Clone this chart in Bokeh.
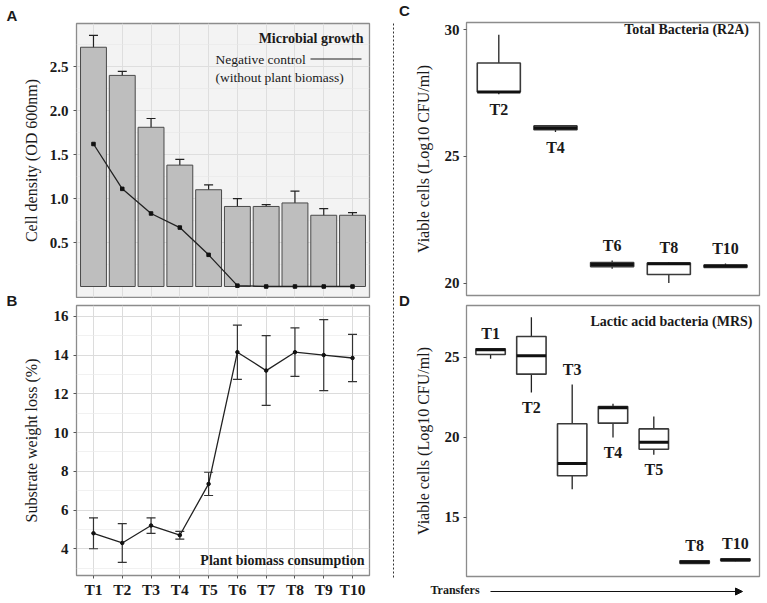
import numpy as np
from bokeh.plotting import figure
from bokeh.models import (Range1d, FixedTicker, ColumnDataSource, Whisker, TeeHead,
                          Label, Arrow, NormalHead, PrintfTickFormatter)
from bokeh.layouts import row, column
from bokeh.embed import file_html
from bokeh.resources import INLINE
from bokeh.core.properties import value

# ---------------- data ----------------
transfers = ["T1", "T2", "T3", "T4", "T5", "T6", "T7", "T8", "T9", "T10"]
growth_od = [2.72, 2.40, 1.81, 1.38, 1.10, 0.91, 0.91, 0.95, 0.81, 0.81]
growth_sd = [0.135, 0.045, 0.10, 0.065, 0.055, 0.09, 0.02, 0.135, 0.075, 0.03]
control_od = [1.62, 1.11, 0.83, 0.67, 0.36, 0.01, 0.0, 0.0, 0.0, 0.0]
control_sd = [0.015, 0.01, 0.01, 0.01, 0.015, 0.01, 0.0, 0.0, 0.0, 0.0]

weight_loss = [4.8, 4.3, 5.2, 4.7, 7.35, 14.15, 13.2, 14.15, 14.0, 13.85]
weight_loss_sd = [0.8, 1.0, 0.4, 0.2, 0.6, 1.4, 1.8, 1.25, 1.83, 1.22]

r2a_transfers = ["T2", "T4", "T6", "T8", "T10"]
r2a_low = [27.45, 25.96, 20.57, 20.00, 20.60]
r2a_q1 = [27.54, 26.05, 20.65, 20.34, 20.62]
r2a_median = [27.54, 26.12, 20.73, 20.76, 20.67]
r2a_q3 = [28.68, 26.20, 20.81, 20.79, 20.71]
r2a_high = [29.80, 26.20, 20.89, 20.83, 20.77]

mrs_transfers = ["T1", "T2", "T3", "T4", "T5", "T8", "T10"]
mrs_low = [24.90, 22.80, 16.75, 19.98, 18.90, 12.10, 12.25]
mrs_q1 = [25.17, 23.94, 17.59, 20.88, 19.25, 12.12, 12.28]
mrs_median = [25.46, 25.09, 18.36, 21.85, 19.69, 12.20, 12.33]
mrs_q3 = [25.53, 26.29, 20.84, 21.92, 20.52, 12.28, 12.40]
mrs_high = [25.55, 27.50, 23.30, 22.09, 21.30, 12.30, 12.42]

# label placement (layout, not data)
r2a_label_side = ["below", "below", "above", "above", "above"]
mrs_label_side = ["above", "below", "above", "below", "below", "above", "above"]

SERIF = "Liberation Serif"
SANS = "Liberation Sans"
TXT = "#1a1a1a"


def make_fig(width, height, borders, xr, yr, bg="white"):
    left, right, top, bottom = borders
    p = figure(width=width, height=height, x_range=Range1d(*xr), y_range=Range1d(*yr),
               output_backend="svg", toolbar_location=None,
               min_border_left=left, min_border_right=right,
               min_border_top=top, min_border_bottom=bottom)
    p.background_fill_color = bg
    p.border_fill_color = "white"
    p.outline_line_color = "#8c8c8c"
    p.outline_line_width = 1.3
    for ax in p.axis:
        ax.axis_line_color = None
        ax.major_tick_line_color = "#555555"
        ax.major_tick_out = 3
        ax.major_tick_in = 0
        ax.minor_tick_line_color = None
        ax.major_label_text_font = SERIF
        ax.major_label_text_font_style = "bold"
        ax.major_label_text_font_size = "15px"
        ax.major_label_text_color = TXT
        ax.major_label_standoff = 4
        ax.axis_label_text_font = SERIF
        ax.axis_label_text_font_style = "normal"
        ax.axis_label_text_font_size = "16px"
        ax.axis_label_text_color = TXT
    return p


def strip(width, height):
    s = figure(width=width, height=height, x_range=Range1d(0, 1), y_range=Range1d(0, 1),
               output_backend="svg", toolbar_location=None,
               x_axis_location=None, y_axis_location=None,
               min_border_left=0, min_border_right=0, min_border_top=0, min_border_bottom=0)
    s.grid.visible = False
    s.outline_line_color = None
    s.background_fill_color = "white"
    s.border_fill_color = "white"
    if hasattr(s, "frame_align"):
        s.frame_align = False
    return s


def screen_label(p, x, y, text, size="14px", bold=True, align="left", font=SERIF):
    p.add_layout(Label(x=x, y=y, x_units="screen", y_units="screen", text=text,
                       text_align=align, text_baseline="middle", text_font=font,
                       text_font_style="bold" if bold else "normal",
                       text_font_size=size, text_color=TXT))


# ---------------- Panel A ----------------
n = len(transfers)
pos = np.arange(1, n + 1)
tick_pos = list(range(1, n + 1))

pa = make_fig(373, 298, (58, 22, 23, 1), (0.41, n + 0.59), (-0.125, 2.99), bg="#f3f3f3")
pa.xaxis.ticker = FixedTicker(ticks=tick_pos)
pa.xaxis.visible = False
pa.yaxis.ticker = FixedTicker(ticks=[0.5, 1.0, 1.5, 2.0, 2.5],
                              minor_ticks=[0.25, 0.75, 1.25, 1.75, 2.25, 2.75])
pa.yaxis.formatter = PrintfTickFormatter(format="%.1f")
pa.yaxis.axis_label = "Cell density (OD 600nm)"
pa.yaxis.axis_label_standoff = 7
pa.xgrid.grid_line_color = "#dedede"
pa.ygrid.grid_line_color = "#dedede"
pa.ygrid.minor_grid_line_color = "#e7e7e7"
pa.ygrid.minor_grid_line_width = 0.6

src_a = ColumnDataSource(dict(
    x=pos, od=growth_od,
    up=np.array(growth_od) + np.array(growth_sd),
    lo=np.array(growth_od) - np.array(growth_sd),
    c=control_od,
    cup=np.array(control_od) + np.array(control_sd),
    clo=np.array(control_od) - np.array(control_sd),
))
pa.vbar(x="x", top="od", bottom=0, width=0.9, source=src_a,
        fill_color="#bebebe", line_color="#4a4a4a", line_width=1)
pa.add_layout(Whisker(source=src_a, base="x", upper="up", lower="lo",
                      line_color="#222222", line_width=1.2,
                      upper_head=TeeHead(size=9, line_color="#222222", line_width=1.2),
                      lower_head=TeeHead(size=9, line_color="#222222", line_width=1.2)))
pa.line(x="x", y="c", source=src_a, line_color="#222222", line_width=1.3)
pa.scatter(x="x", y="c", source=src_a, size=3.5, marker="square",
           fill_color="#111111", line_color="#111111")
pa.add_layout(Whisker(source=src_a, base="x", upper="cup", lower="clo",
                      line_color="#222222", line_width=1.2,
                      upper_head=TeeHead(size=7, line_color="#222222", line_width=1.2),
                      lower_head=TeeHead(size=7, line_color="#222222", line_width=1.2)))

screen_label(pa, 287, 259, "Microbial growth", align="right")
screen_label(pa, 139, 238.5, "Negative control", size="13.5px", bold=False)
screen_label(pa, 139, 220, "(without plant biomass)", size="13.5px", bold=False)
pa.add_layout(Arrow(x_start=234, y_start=238.5, x_end=285, y_end=238.5,
                    start_units="screen", end_units="screen", end=None,
                    line_color="#222222", line_width=1.2))

# ---------------- Panel B ----------------
pb = make_fig(373, 302, (58, 22, 7, 23), (0.41, n + 0.59), (2.62, 16.56))
pb.xaxis.ticker = FixedTicker(ticks=tick_pos)
pb.xaxis.major_label_overrides = {i + 1: t for i, t in enumerate(transfers)}
pb.xaxis.major_label_standoff = 2
pb.xaxis.major_tick_out = 3
pb.xaxis.major_label_text_font_size = "15.5px"
pb.yaxis.ticker = FixedTicker(ticks=[4, 6, 8, 10, 12, 14, 16],
                              minor_ticks=[3, 5, 7, 9, 11, 13, 15])
pb.yaxis.axis_label = "Substrate weight loss (%)"
pb.yaxis.axis_label_standoff = 11
pb.xgrid.grid_line_color = "#dcdcdc"
pb.ygrid.grid_line_color = "#dcdcdc"
pb.ygrid.minor_grid_line_color = "#ebebeb"
pb.ygrid.minor_grid_line_width = 0.7

src_b = ColumnDataSource(dict(
    x=pos, w=weight_loss,
    up=np.array(weight_loss) + np.array(weight_loss_sd),
    lo=np.array(weight_loss) - np.array(weight_loss_sd),
))
pb.add_layout(Whisker(source=src_b, base="x", upper="up", lower="lo",
                      line_color="#333333", line_width=1.2,
                      upper_head=TeeHead(size=9, line_color="#333333", line_width=1.2),
                      lower_head=TeeHead(size=9, line_color="#333333", line_width=1.2)))
pb.line(x="x", y="w", source=src_b, line_color="#222222", line_width=1.3)
pb.scatter(x="x", y="w", source=src_b, size=3.5, fill_color="#111111", line_color="#111111")
screen_label(pb, 288, 15, "Plant biomass consumption", align="right")


# ---------------- box plot helper ----------------
def boxes(p, labels, low, q1, med, q3, high, sides, width):
    m = len(labels)
    xs = np.arange(1, m + 1)
    half = width / 2
    p.segment(x0=xs, y0=q3, x1=xs, y1=high, line_color="#222222", line_width=1.3)
    p.segment(x0=xs, y0=q1, x1=xs, y1=low, line_color="#222222", line_width=1.3)
    p.vbar(x=xs, width=width, top=q3, bottom=q1, fill_color="white",
           line_color="#3a3a3a", line_width=1.6)
    p.segment(x0=xs - half, y0=med, x1=xs + half, y1=med, line_color="#111111", line_width=3)
    ly = [h if s == "above" else l for h, l, s in zip(high, low, sides)]
    off = [-15 if s == "above" else 15 for s in sides]
    p.text(x=xs, y=ly, text=labels, y_offset=off, text_align="center", text_baseline="middle",
           text_font=value(SERIF), text_font_style="bold", text_font_size="16px", text_color=TXT)
    p.xaxis.ticker = FixedTicker(ticks=list(range(1, m + 1)))
    p.xaxis.visible = False
    p.xgrid.grid_line_color = None
    p.ygrid.grid_line_color = None


# ---------------- Panel C ----------------
nc = len(r2a_transfers)
pc = make_fig(354, 298, (55, 6, 22, 3), (0.43, nc + 0.6), (19.51, 30.28))
pc.yaxis.ticker = FixedTicker(ticks=[20, 25, 30])
pc.yaxis.axis_label = "Viable cells (Log10 CFU/ml)"
pc.yaxis.axis_label_standoff = 10
boxes(pc, r2a_transfers, r2a_low, r2a_q1, r2a_median, r2a_q3, r2a_high, r2a_label_side, 0.76)
screen_label(pc, 286, 266.5, "Total Bacteria  (R2A)", align="right")

# ---------------- Panel D ----------------
nd = len(mrs_transfers)
pd_ = make_fig(354, 280, (55, 6, 7, 2), (0.41, nd + 0.59), (11.3, 28.23))
pd_.yaxis.ticker = FixedTicker(ticks=[15, 20, 25])
pd_.yaxis.axis_label = "Viable cells (Log10 CFU/ml)"
pd_.yaxis.axis_label_standoff = 10
boxes(pd_, mrs_transfers, mrs_low, mrs_q1, mrs_median, mrs_q3, mrs_high, mrs_label_side, 0.72)
screen_label(pd_, 286, 255, "Lactic acid bacteria (MRS)", align="right")

# ---------------- "Transfers" strip under D ----------------
ts = strip(354, 22)
screen_label(ts, 19, 11, "Transfers", size="12px", align="left")
ts.add_layout(Arrow(x_start=79, y_start=9, x_end=331, y_end=9,
                    start_units="screen", end_units="screen",
                    end=NormalHead(size=7, fill_color="#111111", line_color="#111111"),
                    line_color="#111111", line_width=1.2))

# ---------------- letter strips / divider ----------------
left_strip = strip(18, 600)
screen_label(left_strip, 11.5, 600 - 15, "A", size="15px", align="center", font=SANS)
screen_label(left_strip, 11.5, 600 - 300, "B", size="15px", align="center", font=SANS)

mid_strip = strip(20, 600)
mid_strip.add_layout(Arrow(x_start=2, y_start=600 - 23, x_end=2, y_end=600 - 578,
                           start_units="screen", end_units="screen", end=None,
                           line_color="#333333", line_width=1, line_dash="2 2"))
screen_label(mid_strip, 13, 600 - 10, "C", size="15px", align="center", font=SANS)
screen_label(mid_strip, 13, 600 - 300, "D", size="15px", align="center", font=SANS)

layout = row(left_strip, column(pa, pb), mid_strip, column(pc, pd_, ts))
open("out.html", "w").write(file_html(layout, INLINE))
